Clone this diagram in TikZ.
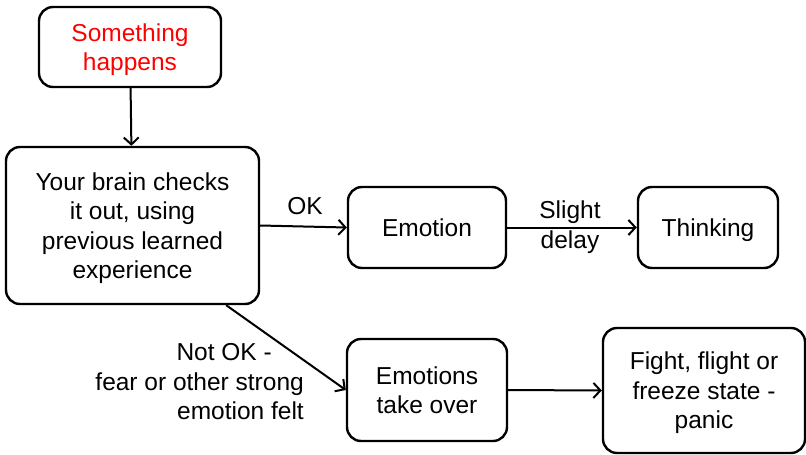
\documentclass[tikz,border=0pt]{standalone}
\usepackage{fontspec}
\setmainfont{Liberation Sans}
\usetikzlibrary{arrows.meta,calc}
\begin{document}
\begin{tikzpicture}[x=1pt,y=-1pt,
  box/.style={draw=black,line width=2.4pt,rounded corners=14pt,align=center,inner sep=0pt,text depth=0pt,
    font=\fontsize{24.5}{29.5}\selectfont},
  lbl/.style={inner sep=0pt,font=\fontsize{24.5}{29.5}\selectfont},
  arr/.style={draw=black,line width=2pt,-{Straight Barb[length=7pt,width=15pt,line width=2pt]}}]
\useasboundingbox (0,0) rectangle (806,455);
\node[box,minimum width=182pt,minimum height=80pt,text=red] (some) at (130,47) {Something\\happens};
\node[box,minimum width=253pt,minimum height=157pt] (brain) at (132.5,225.5) {Your brain checks\\it out, using\\previous learned\\experience};
\node[box,minimum width=158pt,minimum height=81pt] (emo) at (427,227.5) {Emotion};
\node[box,minimum width=140pt,minimum height=81pt] (think) at (708,227.5) {Thinking};
\node[box,minimum width=160pt,minimum height=102pt] (over) at (427,390) {Emotions\\take over};
\node[box,minimum width=202pt,minimum height=125pt] (fight) at (704,390.5) {Fight, flight or\\freeze state -\\panic};
\draw[arr] (some) -- (brain);
\draw[arr] (brain.east) -- (emo.west);
\draw[arr] (emo) -- (think);
\draw[arr] ([xshift=-34pt]brain.south east) -- (over.west);
\draw[arr] (over.east) -- (fight.west);
\node[lbl] (ok) at (305,206) {OK};
\node[lbl,align=center] (slight) at (570,227) {Slight\\delay};
\node[lbl,align=right,anchor=east] (notok) at (304,382) {Not OK -\hspace*{32pt}\\fear or other strong\\emotion felt};
\end{tikzpicture}
\end{document}
